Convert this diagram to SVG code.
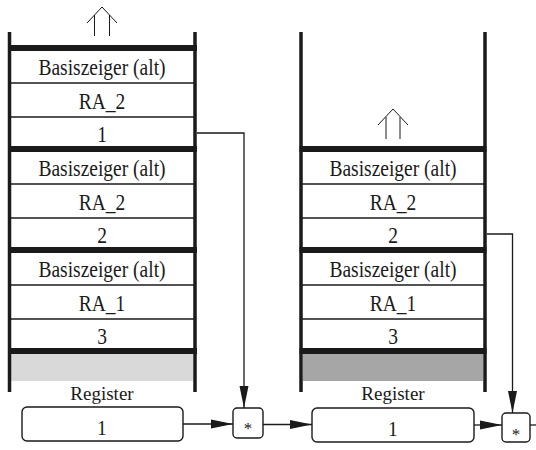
<svg xmlns="http://www.w3.org/2000/svg" width="536" height="450" viewBox="0 0 536 450">
<style>
.t{font-family:"Liberation Serif","Times New Roman","DejaVu Serif",serif;font-size:19.5px;fill:#1a1a1a;text-anchor:middle}
.r{font-family:"Liberation Serif","Times New Roman","DejaVu Serif",serif;font-size:19px;fill:#1a1a1a;text-anchor:middle}
.s{font-family:"Liberation Serif","Times New Roman","DejaVu Serif",serif;font-size:17px;fill:#1a1a1a;text-anchor:middle}
.wall{stroke:#1a1a1a;stroke-width:3.5;fill:none}
.bar{stroke:#1a1a1a;stroke-width:6;fill:none}
.thin{stroke:#1a1a1a;stroke-width:1.3;fill:none}
.box{fill:#fff;stroke:#1a1a1a;stroke-width:1.4}
.con{stroke:#1a1a1a;stroke-width:1.3;fill:none}
.up{stroke:#1a1a1a;stroke-width:1;fill:none}
</style>
<defs>
<marker id="ah" markerUnits="userSpaceOnUse" markerWidth="23" markerHeight="11" refX="22" refY="5" orient="auto">
<path d="M0,0.5 L22,5 L0,9.5 z" fill="#1a1a1a"/>
</marker>
</defs>

<g id="stack-left">
<rect x="11" y="354" width="182" height="27" fill="#d9d9d9"/>
<line class="wall" x1="9.5" y1="32" x2="9.5" y2="392"/>
<line class="wall" x1="195" y1="32" x2="195" y2="392"/>
<line class="bar" x1="8" y1="48" x2="197" y2="48"/>
<line class="bar" x1="8" y1="149" x2="197" y2="149"/>
<line class="bar" x1="8" y1="250" x2="197" y2="250"/>
<line class="bar" x1="8" y1="351" x2="197" y2="351"/>
<line class="thin" x1="9.5" y1="83" x2="195" y2="83"/>
<line class="thin" x1="9.5" y1="117" x2="195" y2="117"/>
<line class="thin" x1="9.5" y1="184" x2="195" y2="184"/>
<line class="thin" x1="9.5" y1="218" x2="195" y2="218"/>
<line class="thin" x1="9.5" y1="285" x2="195" y2="285"/>
<line class="thin" x1="9.5" y1="319" x2="195" y2="319"/>
<path class="up" d="M87,23 L102,7 L117,23 M94.5,15 V36 M109.5,15 V36"/>
<text class="t" transform="translate(102,74.7) scale(1,1.15)">Basiszeiger (alt)</text>
<text class="t" transform="translate(102,109) scale(1,1.15)">RA_2</text>
<text class="t" transform="translate(102,142) scale(1,1.15)">1</text>
<text class="t" transform="translate(102,175.5) scale(1,1.15)">Basiszeiger (alt)</text>
<text class="t" transform="translate(102,210) scale(1,1.15)">RA_2</text>
<text class="t" transform="translate(102,243) scale(1,1.15)">2</text>
<text class="t" transform="translate(102,276.5) scale(1,1.15)">Basiszeiger (alt)</text>
<text class="t" transform="translate(102,311) scale(1,1.15)">RA_1</text>
<text class="t" transform="translate(102,344) scale(1,1.15)">3</text>
</g>

<g id="stack-right">
<rect x="303" y="354" width="180" height="27" fill="#a6a6a6"/>
<line class="wall" x1="301" y1="32" x2="301" y2="392"/>
<line class="wall" x1="485" y1="32" x2="485" y2="392"/>
<line class="bar" x1="299.5" y1="149" x2="486.5" y2="149"/>
<line class="bar" x1="299.5" y1="250" x2="486.5" y2="250"/>
<line class="bar" x1="299.5" y1="351" x2="486.5" y2="351"/>
<line class="thin" x1="301" y1="184" x2="485" y2="184"/>
<line class="thin" x1="301" y1="218" x2="485" y2="218"/>
<line class="thin" x1="301" y1="285" x2="485" y2="285"/>
<line class="thin" x1="301" y1="319" x2="485" y2="319"/>
<path class="up" d="M378,125 L393,109 L408,125 M386,117 V139 M400,117 V139"/>
<text class="t" transform="translate(393,175.5) scale(1,1.15)">Basiszeiger (alt)</text>
<text class="t" transform="translate(393,210) scale(1,1.15)">RA_2</text>
<text class="t" transform="translate(393,243) scale(1,1.15)">2</text>
<text class="t" transform="translate(393,276.5) scale(1,1.15)">Basiszeiger (alt)</text>
<text class="t" transform="translate(393,311) scale(1,1.15)">RA_1</text>
<text class="t" transform="translate(393,344) scale(1,1.15)">3</text>
</g>

<g id="register-left">
<text class="r" x="102" y="400">Register</text>
<rect class="box" x="22" y="407" width="161" height="34" rx="5"/>
<text class="t" transform="translate(102,435) scale(1,1.1)">1</text>
</g>

<g id="mul-left">
<rect class="box" x="233" y="408" width="30" height="30" rx="4"/>
<text class="s" x="248" y="433.5">*</text>
</g>

<g id="register-right">
<text class="r" x="393" y="400">Register</text>
<rect class="box" x="312" y="408" width="162" height="34" rx="5"/>
<text class="t" transform="translate(393,436) scale(1,1.1)">1</text>
</g>

<g id="mul-right">
<rect class="box" x="502" y="413" width="28" height="29" rx="4"/>
<text class="s" x="516" y="440">*</text>
</g>

<g id="connectors">
<path class="con" d="M197,133 H244 V408" marker-end="url(#ah)"/>
<path class="con" d="M487,234 H512.5 V413" marker-end="url(#ah)"/>
<path class="con" d="M183,424 H233" marker-end="url(#ah)"/>
<path class="con" d="M263,424.5 H312" marker-end="url(#ah)"/>
<path class="con" d="M474,425 H502" marker-end="url(#ah)"/>
<path class="con" d="M530,425 H536"/>
</g>
</svg>
